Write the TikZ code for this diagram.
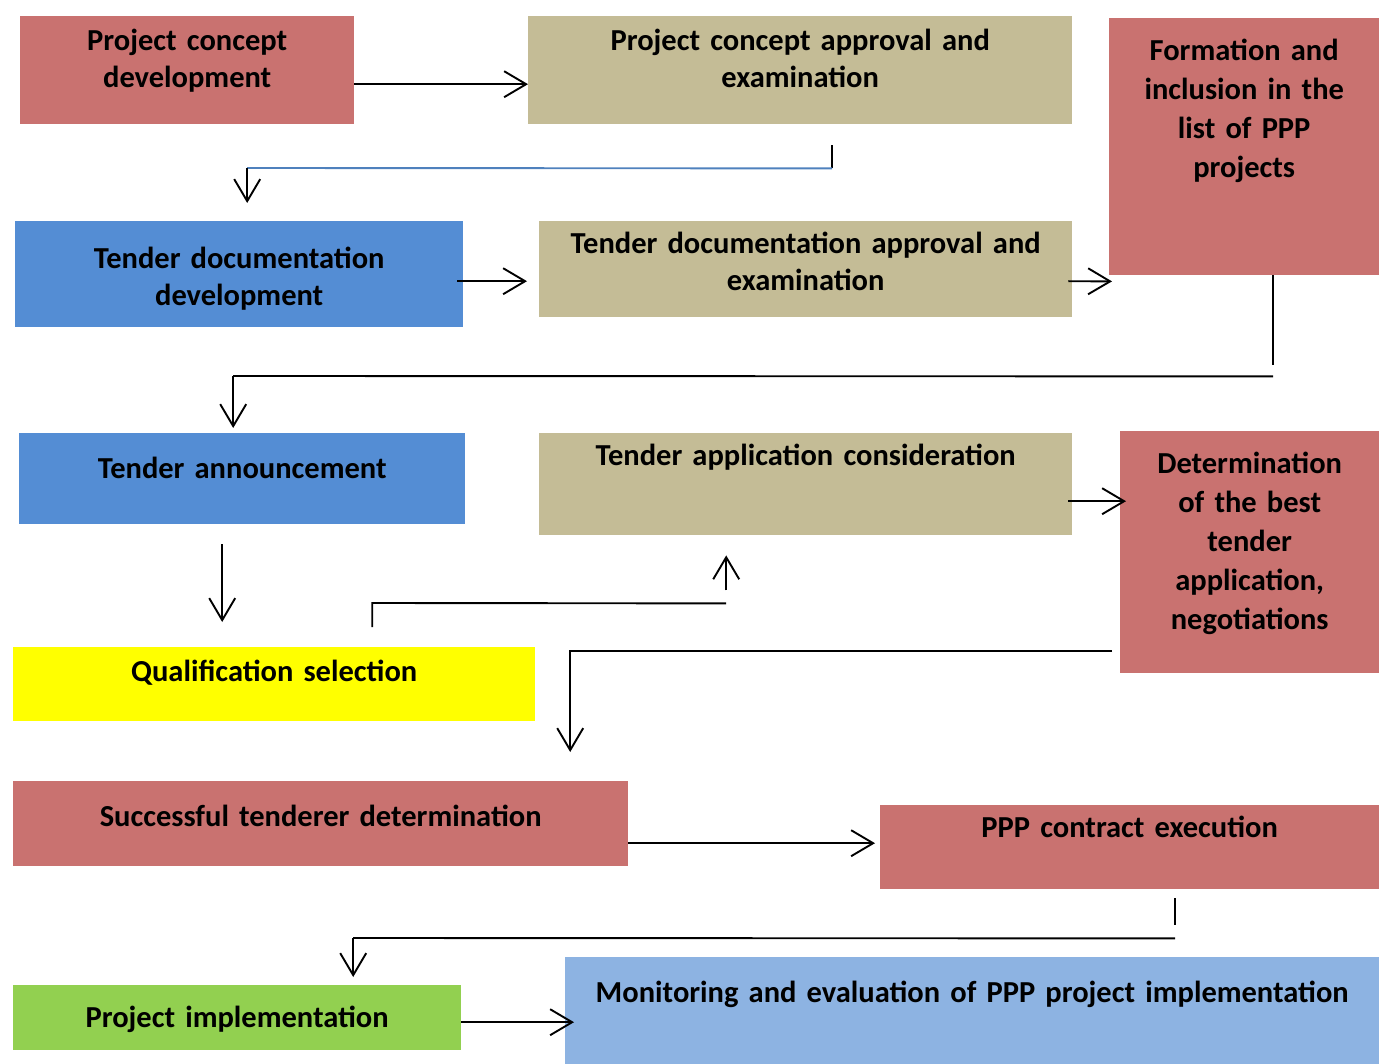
\documentclass[tikz,border=0pt]{standalone}
\usepackage{fontspec}
\setmainfont{Carlito}
\usetikzlibrary{arrows.meta}

\definecolor{boxred}{HTML}{C97270}
\definecolor{boxtan}{HTML}{C4BC96}
\definecolor{boxblue}{HTML}{548DD4}
\definecolor{boxsky}{HTML}{8DB3E2}
\definecolor{boxgreen}{HTML}{92D050}
\definecolor{boxyellow}{HTML}{FFFF00}
\definecolor{linkblue}{HTML}{4F81BD}

\begin{document}
\begin{tikzpicture}[
    x=1pt, y=-1pt,
    >={Straight Barb[length=22pt,width=26pt]},
    box/.style={
        anchor=north west, inner sep=0pt, align=center,
        font=\bfseries\fontsize{30.5pt}{37.5pt}\selectfont
    },
    tall/.style={font=\bfseries\fontsize{30.5pt}{39pt}\selectfont},
    line/.style={line width=1.9pt},
    arr/.style={->, line width=1.9pt}
]
\useasboundingbox (0,0) rectangle (1379,1064);

% stage boxes
\node[box, fill=boxred, text width=334pt, text height=34pt, text depth=74pt] (concept) at (20,16) {Project concept\\development};
\node[box, fill=boxtan, text width=544pt, text height=34pt, text depth=74pt] (approval) at (528,16) {Project concept approval and\\examination};
\node[box, tall, fill=boxred, text width=270pt, text height=42pt, text depth=215pt] (formation) at (1109,18) {Formation and\\inclusion in the\\list of PPP\\projects};
\node[box, fill=boxblue, text width=448pt, text height=47pt, text depth=59pt] (tdoc) at (15,221) {Tender documentation\\development};
\node[box, fill=boxtan, text width=533pt, text height=32pt, text depth=64pt] (tdocappr) at (539,221) {Tender documentation approval and\\examination};
\node[box, fill=boxblue, text width=446pt, text height=45pt, text depth=46pt] (announce) at (19,433) {Tender announcement};
\node[box, fill=boxtan, text width=533pt, text height=32pt, text depth=70pt] (consider) at (539,433) {Tender application consideration};
\node[box, tall, fill=boxred, text width=259pt, text height=42pt, text depth=200pt] (bestapp) at (1120,431) {Determination\\of the best\\tender\\application,\\negotiations};
\node[box, fill=boxyellow, text width=522pt, text height=34pt, text depth=40pt] (qualif) at (13,647) {Qualification selection};
\node[box, fill=boxred, text width=615pt, text height=45pt, text depth=40pt] (successful) at (13,781) {Successful tenderer determination};
\node[box, fill=boxred, text width=499pt, text height=32pt, text depth=52pt] (contract) at (880,805) {PPP contract execution};
\node[box, fill=boxgreen, text width=448pt, text height=42pt, text depth=23pt] (implement) at (13,985) {Project implementation};
\node[box, fill=boxsky, text width=814pt, text height=45pt, text depth=62pt] (monitor) at (565,957) {Monitoring and evaluation of PPP project implementation};

% connectors
\draw[arr] ([yshift=-14pt]concept.east) -- ([yshift=-14pt]concept.east -| approval.west);

\draw[line] ([xshift=32pt,yshift=-21pt]approval.south) -- ([xshift=32pt,yshift=-44pt]approval.south);
\draw[line, draw=linkblue] ([xshift=32pt,yshift=-44pt]approval.south) -- ([xshift=8pt,yshift=53pt]tdoc.north);
\draw[arr] ([xshift=8pt,yshift=53pt]tdoc.north) -- ([xshift=8pt,yshift=18pt]tdoc.north);

\draw[arr] ([xshift=-6pt,yshift=-7pt]tdoc.east) -- ([xshift=-12pt,yshift=-12pt]tdocappr.west);
\draw[arr] ([xshift=-4pt,yshift=-12pt]tdocappr.east) -- ([xshift=3pt,yshift=-6pt]formation.south west);

\draw[line] ([xshift=29pt]formation.south) -- ([xshift=29pt,yshift=-90pt]formation.south);
\draw[line] ([xshift=29pt,yshift=-101pt]formation.south) -- ([xshift=-9pt,yshift=57pt]announce.north);
\draw[arr] ([xshift=-9pt,yshift=57pt]announce.north) -- ([xshift=-9pt,yshift=5pt]announce.north);

\draw[arr] ([xshift=-20pt,yshift=-20pt]announce.south) -- ([xshift=-52pt,yshift=25pt]qualif.north);

\draw[line] ([xshift=98pt,yshift=20pt]qualif.north) -- ([xshift=98pt,yshift=44pt]qualif.north) -- ([xshift=-79.5pt,yshift=-68pt]consider.south);
\draw[arr] ([xshift=-79.5pt,yshift=-55pt]consider.south) -- ([xshift=-79.5pt,yshift=-20pt]consider.south);

\draw[arr] ([xshift=-4pt,yshift=-17pt]consider.east) -- ([xshift=6pt,yshift=51pt]bestapp.west);
\draw[arr] ([xshift=-8pt,yshift=-99pt]bestapp.west) -| ([xshift=249.5pt,yshift=29pt]successful.north);

\draw[arr] ([yshift=-19.5pt]successful.east) -- ([xshift=-5pt,yshift=4pt]contract.west);

\draw[line] ([xshift=45.5pt,yshift=-9pt]contract.south) -- ([xshift=45.5pt,yshift=-36pt]contract.south);
\draw[line] ([xshift=45.5pt,yshift=-49pt]contract.south) -- ([xshift=116pt,yshift=47pt]implement.north);
\draw[arr] ([xshift=116pt,yshift=47pt]implement.north) -- ([xshift=116pt,yshift=8pt]implement.north);

\draw[arr] ([yshift=-4.5pt]implement.east) -- ([xshift=9pt,yshift=-11.5pt]monitor.west);
\end{tikzpicture}
\end{document}
